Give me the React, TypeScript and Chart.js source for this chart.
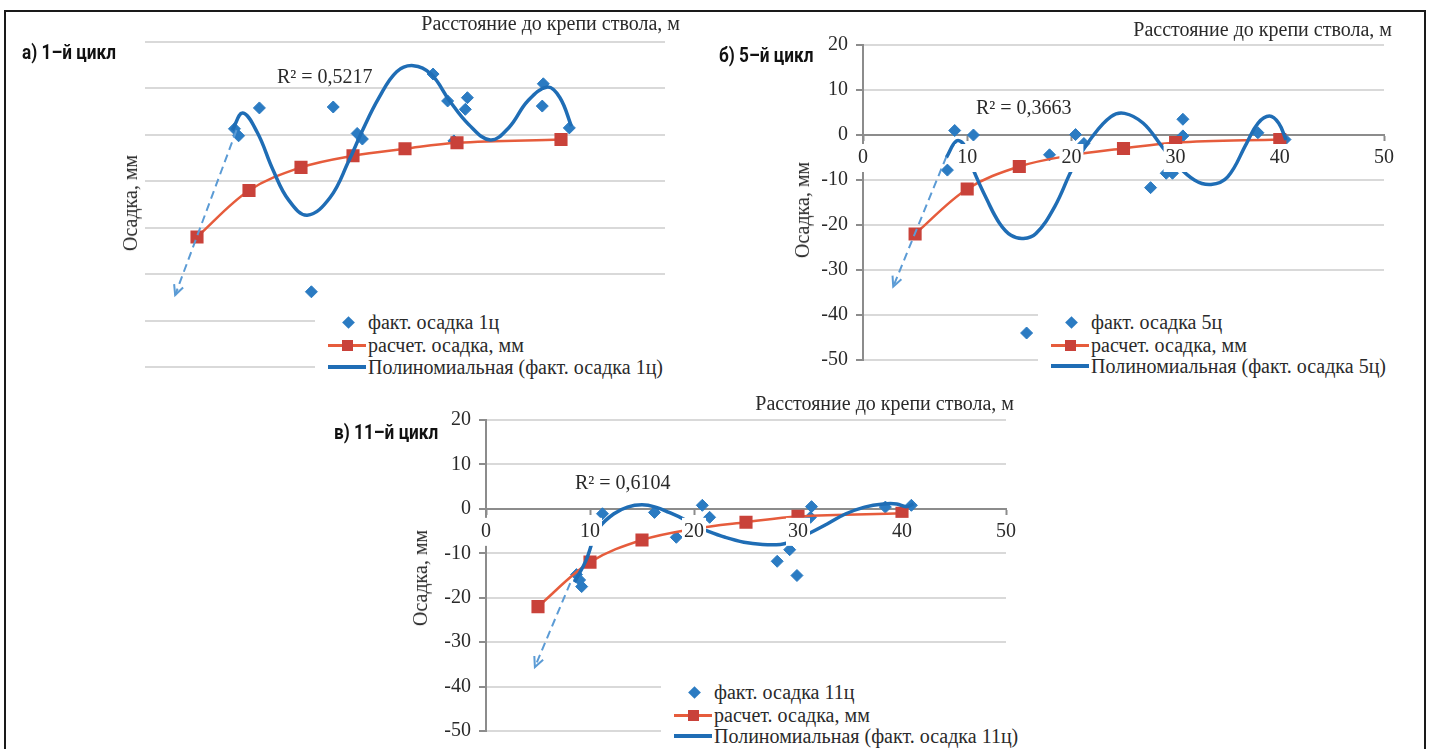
import React, { useEffect, useRef } from 'react';
import { Chart, registerables } from 'chart.js';

Chart.register(...registerables);

// ---------- data ----------
const xTickValues = [0, 10, 20, 30, 40, 50];
const yTickValues = [-50, -40, -30, -20, -10, 0, 10, 20];

// расчет. осадка, мм (same for all cycles)
const calcX = [5, 10, 15, 20, 25, 30, 40];
const calcY = [-22, -12, -7, -4.5, -3, -1.7, -1];

// факт. осадка 1ц
const fact1X = [8.6, 9.0, 11.0, 16.0, 18.1, 20.4, 20.9, 27.7, 29.1, 29.7, 31.0, 30.8, 38.3, 38.2, 40.8];
const fact1Y = [1.3, -0.2, 5.8, -33.8, 6.0, 0.3, -0.9, 13.1, 7.3, -1.3, 8.0, 5.5, 11.0, 6.2, 1.5];
// полиномиальная (факт. осадка 1ц)
const trend1X = [8.4, 9.4, 10.8, 12.3, 13.8, 15.6, 17.8, 19.6, 20.9, 22.5, 24.2, 25.8, 27.5, 29.3, 31.1, 33.2, 35.0, 36.8, 38.7, 39.9, 41.0];
const trend1Y = [1.0, 4.7, 0.5, -7.5, -14.0, -17.3, -13.5, -5.6, 0.9, 8.0, 13.6, 14.9, 13.1, 7.3, 2.3, -1.1, 1.6, 7.3, 10.3, 8.0, 1.9];
const arrow1X = [8.8, 2.9];
const arrow1Y = [1.0, -34.5];

// факт. осадка 5ц
const fact5X = [8.1, 8.8, 10.6, 15.7, 17.9, 20.4, 21.2, 27.6, 29.1, 29.7, 30.7, 30.7, 37.9, 40.5];
const fact5Y = [-7.8, 1.0, 0.0, -44.0, -4.4, 0.1, -1.9, -11.7, -8.5, -8.5, 3.5, -0.2, 0.5, -1.0];
const trend5X = [8.0, 9.0, 9.8, 10.6, 11.9, 13.1, 14.2, 15.4, 16.6, 18.4, 20.2, 22.0, 23.8, 25.1, 26.9, 28.7, 30.0, 31.8, 33.4, 35.0, 36.8, 37.9, 39.0, 39.9, 40.6];
const trend5Y = [-5.0, -1.3, -2.5, -7.8, -14.4, -19.6, -22.3, -23.0, -21.9, -15.9, -7.0, -0.4, 4.1, 4.8, 2.6, -2.6, -6.3, -10.0, -11.0, -9.3, -1.9, 2.6, 4.2, 2.6, -1.1];
const arrow5X = [8.0, 2.9];
const arrow5Y = [-4.8, -33.7];

// факт. осадка 11ц
const fact11X = [8.7, 9.0, 9.2, 11.2, 16.2, 18.3, 20.8, 21.5, 28.0, 29.2, 29.9, 31.3, 31.2, 38.4, 40.9];
const fact11Y = [-14.8, -16.0, -17.5, -1.1, -0.8, -6.4, 0.8, -1.9, -11.8, -9.2, -15.0, 0.5, -1.9, 0.4, 0.8];
const trend11X = [8.5, 9.6, 10.3, 10.9, 12.3, 13.6, 15.0, 16.3, 17.6, 19.0, 20.1, 21.2, 23.0, 24.8, 26.6, 28.3, 29.2, 30.1, 31.0, 32.8, 34.6, 36.4, 38.2, 39.5, 40.4, 41.1];
const trend11Y = [-16.5, -11.7, -7.0, -4.1, -1.1, 0.4, 0.9, 0.4, -0.8, -2.3, -3.8, -4.9, -6.4, -7.5, -8.0, -8.0, -7.5, -6.6, -5.6, -3.4, -1.1, 0.4, 1.1, 1.1, 0.5, 1.1];
const arrow11X = [8.1, 4.7];
const arrow11Y = [-16.7, -35.6];

const panelLabels = ['а) 1–й цикл', 'б) 5–й цикл', 'в) 11–й цикл'];
const r2Labels = ['R² = 0,5217', 'R² = 0,3663', 'R² = 0,6104'];
const factLabels = ['факт. осадка 1ц', 'факт. осадка 5ц', 'факт. осадка 11ц'];
const calcLabel = 'расчет. осадка, мм';
const trendLabels = ['Полиномиальная (факт. осадка 1ц)', 'Полиномиальная (факт. осадка 5ц)', 'Полиномиальная (факт. осадка 11ц)'];
const xTitle = 'Расстояние до крепи ствола, м';
const yTitle = 'Осадка, мм';

// ---------- styles ----------
const SERIF = "'Liberation Serif', 'Times New Roman', 'DejaVu Serif', serif";
const SANS_BOLD = "Roboto, 'Liberation Sans', sans-serif";
const BLUE_PT = '#2b7bc2';
const BLUE_TREND = '#1f6db5';
const RED_LINE = '#e65c3c';
const RED_PT = '#c9423a';
const ARROW = '#5b9bd5';
const AXIS = '#8c8c8c';
const GRID = '#d9d9d9';
const TEXT = '#2a2a2a';

const toPts = (xs: number[], ys: number[]) => xs.map((x, i) => ({ x, y: ys[i] }));

const arrowPlugin = {
  id: 'arrow',
  afterDatasetsDraw(chart: any, _args: any, opts: any) {
    if (!opts || !opts.xs) return;
    const sx = chart.scales.x;
    const sy = chart.scales.y;
    const x0 = sx.getPixelForValue(opts.xs[0]);
    const y0 = sy.getPixelForValue(opts.ys[0]);
    const x1 = sx.getPixelForValue(opts.xs[1]);
    const y1 = sy.getPixelForValue(opts.ys[1]);
    const ctx = chart.ctx;
    ctx.save();
    ctx.strokeStyle = ARROW;
    ctx.lineWidth = 2;
    ctx.setLineDash([8, 5]);
    ctx.beginPath();
    ctx.moveTo(x0, y0);
    ctx.lineTo(x1, y1);
    ctx.stroke();
    ctx.setLineDash([]);
    const ang = Math.atan2(y1 - y0, x1 - x0);
    const L = 11;
    ctx.beginPath();
    ctx.moveTo(x1 - L * Math.cos(ang - 0.45), y1 - L * Math.sin(ang - 0.45));
    ctx.lineTo(x1, y1);
    ctx.lineTo(x1 - L * Math.cos(ang + 0.45), y1 - L * Math.sin(ang + 0.45));
    ctx.stroke();
    ctx.restore();
  },
};

type PanelProps = {
  l: number; t: number; w: number; h: number;
  axes: boolean;
  factX: number[]; factY: number[];
  trendX: number[]; trendY: number[];
  arrowX: number[]; arrowY: number[];
};

const PADL = 70, PADT = 15, PADR = 20, PADB = 15, YW = 60;

function zeroPad(s: any) {
  s.paddingLeft = 0; s.paddingRight = 0; s.paddingTop = 0; s.paddingBottom = 0;
}

function ChartPanel(p: PanelProps) {
  const ref = useRef<HTMLCanvasElement>(null);
  useEffect(() => {
    if (!ref.current) return;
    const font = { family: SERIF, size: 20 };
    const chart = new Chart(ref.current, {
      type: 'scatter',
      data: {
        datasets: [
          {
            label: 'fact',
            data: toPts(p.factX, p.factY),
            pointStyle: 'rectRot',
            pointRadius: 6,
            backgroundColor: BLUE_PT,
            borderColor: BLUE_PT,
            borderWidth: 1,
            showLine: false,
            order: 2,
          },
          {
            label: 'calc',
            data: toPts(calcX, calcY),
            showLine: true,
            borderColor: RED_LINE,
            borderWidth: 2.5,
            tension: 0.35,
            pointStyle: 'rect',
            pointRadius: 7.5,
            pointBackgroundColor: RED_PT,
            pointBorderColor: RED_PT,
            order: 1,
          },
          {
            label: 'trend',
            data: toPts(p.trendX, p.trendY),
            showLine: true,
            borderColor: BLUE_TREND,
            borderWidth: 3.5,
            tension: 0.4,
            pointRadius: 0,
            order: 0,
          },
        ] as any,
      },
      options: {
        animation: false,
        responsive: false,
        events: [],
        layout: { padding: { left: PADL - YW, top: PADT, right: PADR, bottom: PADB } },
        plugins: {
          legend: { display: false },
          tooltip: { enabled: false },
          arrow: { xs: p.arrowX, ys: p.arrowY },
        } as any,
        scales: {
          x: {
            type: 'linear',
            min: 0,
            max: 50,
            display: p.axes,
            position: p.axes ? { y: 0 } : 'bottom',
            afterBuildTicks: (s: any) => { s.ticks = xTickValues.map((v) => ({ value: v })); },
            afterFit: zeroPad,
            grid: { drawOnChartArea: false, drawTicks: true, tickLength: 5, tickColor: AXIS, tickWidth: 2 },
            border: { display: true, color: AXIS, width: 2 },
            ticks: {
              z: 1,
              font, color: TEXT, padding: 6, maxRotation: 0, autoSkip: false,
              showLabelBackdrop: true, backdropColor: '#ffffff', backdropPadding: 2,
            },
          } as any,
          y: {
            type: 'linear',
            min: -50,
            max: 20,
            position: 'left',
            afterBuildTicks: (s: any) => { s.ticks = yTickValues.map((v) => ({ value: v })); },
            afterFit: (s: any) => { s.width = YW; zeroPad(s); },
            grid: { color: GRID, lineWidth: 2, drawTicks: p.axes, tickLength: 7, tickColor: AXIS, tickWidth: 2 },
            border: { display: p.axes, color: AXIS, width: 2 },
            ticks: { display: p.axes, font, color: TEXT, padding: 8, autoSkip: false },
          } as any,
        },
      },
      plugins: [arrowPlugin as any],
    });
    return () => chart.destroy();
  }, []);
  const cw = p.w + PADL + PADR;
  const ch = p.h + PADT + PADB;
  return (
    <canvas
      ref={ref}
      width={cw}
      height={ch}
      style={{ position: 'absolute', left: p.l - PADL, top: p.t - PADT, width: cw, height: ch }}
    />
  );
}

type TextProps = { x: number; y: number; text: string; align?: 'left' | 'right'; size?: number };
function Txt({ x, y, text, align = 'left', size = 20 }: TextProps) {
  const style: any = {
    position: 'absolute', top: y - 12, fontFamily: SERIF, fontSize: size, lineHeight: '24px',
    color: TEXT, whiteSpace: 'nowrap',
  };
  if (align === 'left') style.left = x; else style.right = 1430 - x;
  return <div style={style}>{text}</div>;
}

function VTxt({ x, y, text }: { x: number; y: number; text: string }) {
  return (
    <div style={{
      position: 'absolute', left: x, top: y, transform: 'translate(-50%, -50%) rotate(-90deg)',
      fontFamily: SERIF, fontSize: 20, lineHeight: '24px', color: TEXT, whiteSpace: 'nowrap',
    }}>{text}</div>
  );
}

function PanelLabel({ x, y, text }: { x: number; y: number; text: string }) {
  return (
    <div style={{
      position: 'absolute', left: x, top: y - 12, fontFamily: SANS_BOLD, fontWeight: 700, fontSize: 20,
      lineHeight: '24px', color: '#111', whiteSpace: 'nowrap',
      transform: 'scaleX(0.86)', transformOrigin: 'left center',
    }}>{text}</div>
  );
}

function Legend({ L, rows, right, factLabel, trendLabel }: { L: number; rows: number[]; right: number; factLabel: string; trendLabel: string }) {
  const top = rows[0] - 13;
  const bottom = rows[2] + 14;
  return (
    <div style={{ position: 'absolute', left: 0, top: 0 }}>
      <div style={{ position: 'absolute', left: L, top, width: right - L, height: bottom - top, background: '#fff' }} />
      <div style={{ position: 'absolute', left: L + 33 - 4.5, top: rows[0] - 4.5, width: 9, height: 9, background: BLUE_PT, transform: 'rotate(45deg)' }} />
      <div style={{ position: 'absolute', left: L + 13, top: rows[1] - 1.5, width: 38, height: 3, background: RED_LINE }} />
      <div style={{ position: 'absolute', left: L + 32 - 5.5, top: rows[1] - 5.5, width: 11, height: 11, background: RED_PT }} />
      <div style={{ position: 'absolute', left: L + 13, top: rows[2] - 2, width: 38, height: 4, background: BLUE_TREND }} />
      <Txt x={L + 53} y={rows[0]} text={factLabel} />
      <Txt x={L + 53} y={rows[1]} text={calcLabel} />
      <Txt x={L + 53} y={rows[2]} text={trendLabel} />
    </div>
  );
}

export default function App() {
  const A = { l: 145, t: 42, w: 520, h: 325 };
  const B = { l: 863, t: 45, w: 521, h: 315 };
  const C = { l: 486, t: 420, w: 520, h: 311 };
  return (
    <div style={{ position: 'absolute', left: 0, top: 0, width: 1430, height: 749, background: '#fff', overflow: 'hidden' }}>
      <div style={{ position: 'absolute', left: 4, top: 10, width: 1422, height: 800, border: '2px solid #1a1a1a', boxSizing: 'border-box' }} />

      <ChartPanel {...A} axes={false} factX={fact1X} factY={fact1Y} trendX={trend1X} trendY={trend1Y} arrowX={arrow1X} arrowY={arrow1Y} />
      <ChartPanel {...B} axes={true} factX={fact5X} factY={fact5Y} trendX={trend5X} trendY={trend5Y} arrowX={arrow5X} arrowY={arrow5Y} />
      <ChartPanel {...C} axes={true} factX={fact11X} factY={fact11Y} trendX={trend11X} trendY={trend11Y} arrowX={arrow11X} arrowY={arrow11Y} />

      <Legend L={315} rows={[322, 345, 367]} right={715} factLabel={factLabels[0]} trendLabel={trendLabels[0]} />
      <Legend L={1038} rows={[322, 345, 366]} right={1420} factLabel={factLabels[1]} trendLabel={trendLabels[1]} />
      <Legend L={661} rows={[692, 715, 736]} right={1040} factLabel={factLabels[2]} trendLabel={trendLabels[2]} />

      <PanelLabel x={22} y={52} text={panelLabels[0]} />
      <PanelLabel x={719} y={55} text={panelLabels[1]} />
      <PanelLabel x={334} y={432} text={panelLabels[2]} />

      <Txt x={680} y={23} text={xTitle} align="right" />
      <Txt x={1392} y={29} text={xTitle} align="right" />
      <Txt x={1014} y={403} text={xTitle} align="right" />

      <VTxt x={130} y={203} text={yTitle} />
      <VTxt x={802} y={210} text={yTitle} />
      <VTxt x={420} y={578} text={yTitle} />

      <Txt x={277} y={76} text={r2Labels[0]} />
      <Txt x={976} y={107} text={r2Labels[1]} />
      <Txt x={575} y={482} text={r2Labels[2]} />
    </div>
  );
}
